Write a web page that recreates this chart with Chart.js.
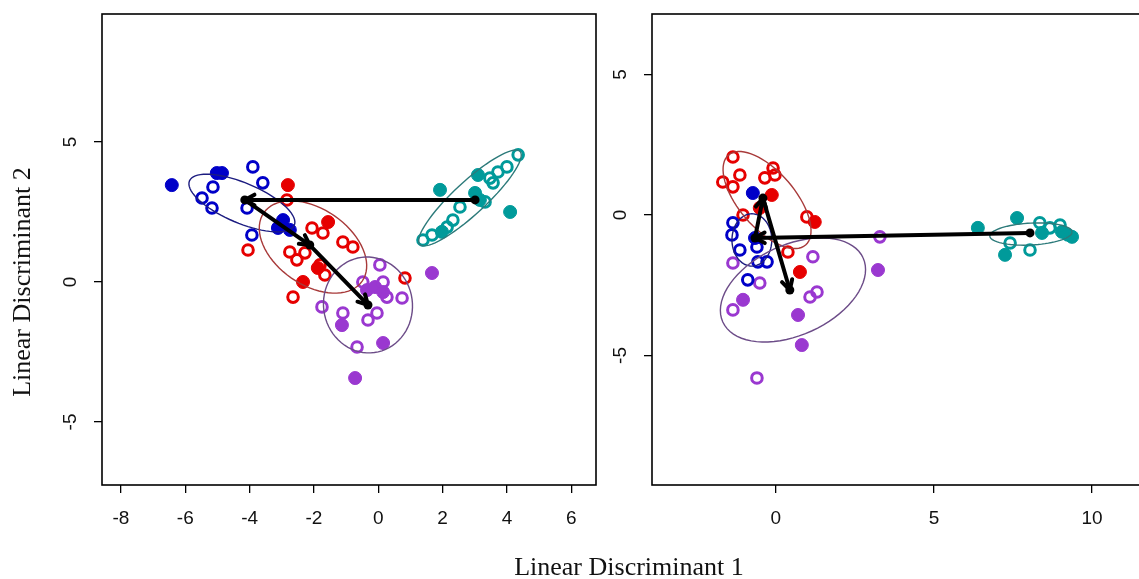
<!DOCTYPE html>
<html>
<head>
<meta charset="utf-8">
<script src="https://cdn.jsdelivr.net/npm/chart.js@4.4.1/dist/chart.umd.min.js"></script>
<style>
  html, body { margin: 0; padding: 0; background: #fff; overflow: hidden; }
  #page { position: relative; width: 1139px; height: 579px; overflow: hidden; background: #fff; }
  #leftBox { position: absolute; left: 0; top: 0; }
  #rightBox { position: absolute; left: 560px; top: 0; }
  .axisTitle {
    position: absolute; font-family: "Liberation Serif", "DejaVu Serif", serif;
    font-size: 26px; color: #111; text-align: center; white-space: nowrap;
    height: 30px; line-height: 30px; width: 400px;
  }
  #xTitle { left: 429px; top: 552px; }
  #yTitle { left: -178px; top: 267px; transform: rotate(-90deg); }
</style>
</head>
<body>
<div id="page">
  <div id="leftBox"><canvas id="leftChart" width="620" height="579"></canvas></div>
  <div id="rightBox"><canvas id="rightChart" width="600" height="579"></canvas></div>
  <div class="axisTitle" id="xTitle">Linear Discriminant 1</div>
  <div class="axisTitle" id="yTitle">Linear Discriminant 2</div>
</div>
<script>
// tick values
const leftXTicks = [-8, -6, -4, -2, 0, 2, 4, 6];
const leftYTicks = [-5, 0, 5];
const rightXTicks = [0, 5, 10];
const rightYTicks = [-5, 0, 5];

// left panel points [LD1, LD2]
const leftBlueOpen = [[-3.90, 4.11], [-3.59, 3.54], [-5.14, 3.39], [-5.48, 3.00], [-5.17, 2.64], [-4.08, 2.64], [-3.93, 1.68]];
const leftBlueFilled = [[-6.42, 3.46], [-5.02, 3.89], [-4.86, 3.89], [-2.96, 2.21], [-3.12, 1.93], [-2.75, 1.86]];
const leftRedOpen = [[-2.06, 1.93], [-1.72, 1.75], [-1.10, 1.43], [-0.79, 1.25], [-4.05, 1.14], [-2.75, 1.07], [-2.53, 0.79], [-2.28, 1.04], [-1.81, 0.61], [-1.66, 0.25], [-2.65, -0.54], [0.83, 0.14], [-2.84, 2.93]];
const leftRedFilled = [[-2.81, 3.46], [-1.56, 2.14], [-2.34, 0.00], [-1.88, 0.50]];
const leftPurpleOpen = [[0.05, 0.61], [0.15, 0.00], [-0.48, 0.00], [0.27, -0.54], [0.74, -0.57], [-1.75, -0.89], [-1.10, -1.11], [-0.32, -1.36], [-0.04, -1.11], [-0.66, -2.32]];
const leftPurpleFilled = [[-0.35, -0.29], [-0.10, -0.18], [0.15, -0.36], [-1.13, -1.54], [0.15, -2.18], [-0.72, -3.43], [1.67, 0.32]];
const leftTealOpen = [[4.35, 4.54], [4.00, 4.11], [3.72, 3.93], [3.47, 3.71], [3.57, 3.54], [3.32, 2.86], [2.54, 2.68], [2.32, 2.21], [2.14, 1.96], [1.67, 1.68], [1.39, 1.50]];
const leftTealFilled = [[3.10, 3.82], [1.92, 3.29], [3.01, 3.18], [3.16, 2.93], [4.10, 2.50], [1.98, 1.79]];

// right panel points
const rightBlueOpen = [[-1.36, -0.28], [-1.39, -0.71], [-1.14, -1.25], [-0.60, -1.14], [-0.57, -1.67], [-0.28, -1.67], [-0.89, -2.31]];
const rightBlueFilled = [[-0.73, 0.78], [-0.66, -0.82]];
const rightRedOpen = [[-1.36, 2.06], [-0.09, 1.67], [-0.03, 1.42], [-1.14, 1.42], [-1.68, 1.17], [-1.36, 1.00], [-0.35, 1.32], [0.98, -0.07], [-1.04, 0.00], [0.38, -1.32]];
const rightRedFilled = [[-0.13, 0.71], [1.23, -0.25], [0.76, -2.03], [-0.51, 0.25]];
const rightPurpleOpen = [[3.29, -0.78], [1.17, -1.49], [-1.36, -1.71], [-0.51, -2.42], [1.30, -2.74], [1.08, -2.92], [-1.36, -3.38], [-0.60, -5.80]];
const rightPurpleFilled = [[3.23, -1.96], [-1.04, -3.02], [0.70, -3.56], [0.82, -4.63]];
const rightTealOpen = [[7.41, -1.00], [8.04, -1.25], [8.35, -0.28], [8.99, -0.36], [9.24, -0.71], [8.67, -0.46]];
const rightTealFilled = [[6.39, -0.46], [7.63, -0.11], [7.25, -1.42], [8.42, -0.64], [9.37, -0.78], [9.05, -0.60]];

// group centroids, path teal -> blue -> red -> purple
const leftCentroids = [[3.01, 2.93], [-4.15, 2.93], [-2.13, 1.32], [-0.32, -0.82]];
const rightCentroids = [[8.04, -0.64], [-0.66, -0.82], [-0.41, 0.60], [0.44, -2.67]];

// ellipses: centre and two semi-axis vectors (blue, red, purple, teal)
const leftEllipseCentres = [[-4.24, 2.82], [-2.03, 1.25], [-0.32, -0.82], [2.85, 3.00]];
const leftEllipseAxisA = [[1.63, -0.79], [1.53, -1.22], [1.37, 0.21], [1.56, 1.66]];
const leftEllipseAxisB = [[-0.24, -0.66], [-0.67, -1.11], [0.20, -1.70], [0.34, -0.42]];
const rightEllipseCentres = [[-0.76, -0.89], [-0.28, 0.53], [0.54, -2.67], [8.07, -0.68]];
const rightEllipseAxisA = [[0.63, 0.00], [1.22, -1.60], [2.22, 1.14], [1.30, 0.07]];
const rightEllipseAxisB = [[0.00, 0.93], [-0.67, -0.65], [0.59, -1.46], [0.00, -0.39]];

// styles
const groupColors = ["#0000c8", "#e60000", "#9a38d0", "#009a9a"];
const ellipseColors = ["#1c1c80", "#a83a3a", "#6c4c88", "#2c7a7a"];
const tickFont = { family: "Liberation Sans, Arial, sans-serif", size: 19 };

const toXY = (arr) => arr.map(([x, y]) => ({ x, y }));

const buildDatasets = (groups) => {
  const sets = [];
  groups.forEach(([open, filled], i) => {
    sets.push({
      data: toXY(open),
      pointRadius: 5.3,
      pointBorderWidth: 3,
      pointBackgroundColor: "rgba(0,0,0,0)",
      pointBorderColor: groupColors[i],
      showLine: false,
    });
    sets.push({
      data: toXY(filled),
      pointRadius: 6.5,
      pointBorderWidth: 1,
      pointBackgroundColor: groupColors[i],
      pointBorderColor: groupColors[i],
      showLine: false,
    });
  });
  return sets;
};

// ellipses, arrows, frame and rotated y tick labels
const makeOverlay = (centres, axA, axB, centroids, yTicks) => ({
  id: "overlay",
  afterDatasetsDraw(chart) {
    const { ctx, chartArea } = chart;
    const xs = chart.scales.x;
    const ys = chart.scales.y;
    ctx.save();
    ctx.beginPath();
    ctx.rect(chartArea.left, chartArea.top, chartArea.width, chartArea.height);
    ctx.clip();

    centres.forEach((c, i) => {
      ctx.beginPath();
      for (let k = 0; k <= 72; k++) {
        const t = (k / 72) * Math.PI * 2;
        const dx = c[0] + axA[i][0] * Math.cos(t) + axB[i][0] * Math.sin(t);
        const dy = c[1] + axA[i][1] * Math.cos(t) + axB[i][1] * Math.sin(t);
        const px = xs.getPixelForValue(dx);
        const py = ys.getPixelForValue(dy);
        if (k === 0) ctx.moveTo(px, py);
        else ctx.lineTo(px, py);
      }
      ctx.strokeStyle = ellipseColors[i];
      ctx.lineWidth = 1.4;
      ctx.stroke();
    });

    ctx.strokeStyle = "#000";
    ctx.fillStyle = "#000";
    ctx.lineWidth = 4;
    ctx.lineCap = "round";
    for (let i = 0; i < centroids.length - 1; i++) {
      const x0 = xs.getPixelForValue(centroids[i][0]);
      const y0 = ys.getPixelForValue(centroids[i][1]);
      const x1 = xs.getPixelForValue(centroids[i + 1][0]);
      const y1 = ys.getPixelForValue(centroids[i + 1][1]);
      ctx.beginPath();
      ctx.moveTo(x0, y0);
      ctx.lineTo(x1, y1);
      ctx.stroke();
      const ang = Math.atan2(y1 - y0, x1 - x0);
      ctx.beginPath();
      ctx.moveTo(x1 - 11 * Math.cos(ang - 0.5), y1 - 11 * Math.sin(ang - 0.5));
      ctx.lineTo(x1, y1);
      ctx.lineTo(x1 - 11 * Math.cos(ang + 0.5), y1 - 11 * Math.sin(ang + 0.5));
      ctx.stroke();
    }
    centroids.forEach(([cx, cy]) => {
      ctx.beginPath();
      ctx.arc(xs.getPixelForValue(cx), ys.getPixelForValue(cy), 4.5, 0, Math.PI * 2);
      ctx.fill();
    });
    ctx.restore();

    ctx.save();
    ctx.strokeStyle = "#000";
    ctx.lineWidth = 1.6;
    ctx.strokeRect(chartArea.left, chartArea.top, chartArea.width, chartArea.height);

    ctx.fillStyle = "#111";
    ctx.font = `${tickFont.size}px ${tickFont.family}`;
    ctx.textAlign = "center";
    ctx.textBaseline = "middle";
    yTicks.forEach((v) => {
      ctx.save();
      ctx.translate(chartArea.left - 31, ys.getPixelForValue(v));
      ctx.rotate(-Math.PI / 2);
      ctx.fillText(String(v), 0, 0);
      ctx.restore();
    });
    ctx.restore();
  },
});

const makeChart = (id, groups, xr, yr, xTicks, yTicks, yAxisWidth, rightPad, overlay) => {
  new Chart(document.getElementById(id), {
    type: "scatter",
    data: { datasets: buildDatasets(groups) },
    options: {
      responsive: false,
      animation: false,
      events: [],
      layout: { padding: { top: 14, right: rightPad, bottom: 0, left: 0 } },
      plugins: { legend: { display: false }, tooltip: { enabled: false } },
      scales: {
        x: {
          type: "linear",
          min: xr[0],
          max: xr[1],
          afterBuildTicks: (s) => { s.ticks = xTicks.map((v) => ({ value: v })); },
          afterFit: (s) => { s.height = 94; },
          grid: { drawOnChartArea: false, drawTicks: true, tickLength: 8, color: "#000", lineWidth: 1.3 },
          border: { display: false },
          ticks: { color: "#111", font: tickFont, padding: 14, maxRotation: 0, autoSkip: false },
        },
        y: {
          type: "linear",
          min: yr[0],
          max: yr[1],
          afterBuildTicks: (s) => { s.ticks = yTicks.map((v) => ({ value: v })); },
          afterFit: (s) => { s.width = yAxisWidth; },
          grid: { drawOnChartArea: false, drawTicks: true, tickLength: 8, color: "#000", lineWidth: 1.3 },
          border: { display: false },
          ticks: { display: false },
        },
      },
    },
    plugins: [overlay],
  });
};

makeChart(
  "leftChart",
  [[leftBlueOpen, leftBlueFilled], [leftRedOpen, leftRedFilled], [leftPurpleOpen, leftPurpleFilled], [leftTealOpen, leftTealFilled]],
  [-8.59, 6.77], [-7.25, 9.57], leftXTicks, leftYTicks, 102, 24,
  makeOverlay(leftEllipseCentres, leftEllipseAxisA, leftEllipseAxisB, leftCentroids, leftYTicks)
);

makeChart(
  "rightChart",
  [[rightBlueOpen, rightBlueFilled], [rightRedOpen, rightRedFilled], [rightPurpleOpen, rightPurpleFilled], [rightTealOpen, rightTealFilled]],
  [-3.92, 11.71], [-9.61, 7.15], rightXTicks, rightYTicks, 92, 14,
  makeOverlay(rightEllipseCentres, rightEllipseAxisA, rightEllipseAxisB, rightCentroids, rightYTicks)
);
</script>
</body>
</html>
